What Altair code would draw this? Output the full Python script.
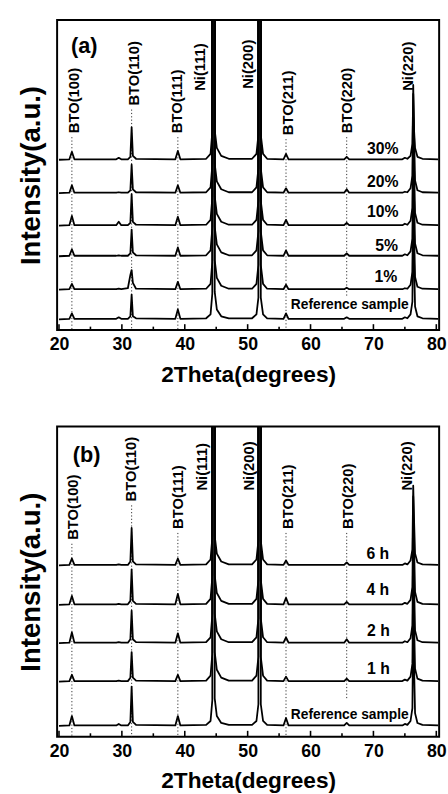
import altair as alt
import pandas as pd

FONT = "Liberation Sans"

# shared 2-theta sampling grid (degrees)
two_theta = [20.0, 21.65, 22.05, 22.45,
             29.1, 29.5, 29.9,
             30.95, 31.35, 31.55, 31.75, 32.25,
             38.5, 38.9, 39.3,
             43.4, 44.1, 44.38, 44.42, 44.72, 44.76, 45.1, 45.8, 47.0,
             50.7, 51.4, 51.71, 51.75, 52.05, 52.09, 52.45, 53.1,
             55.7, 56.1, 56.5,
             65.35, 65.75, 66.15,
             74.6, 75.0, 75.4,
             75.9, 76.2, 76.33, 76.48, 76.62, 77.0, 77.8,
             80.3]

# ---------- panel (a) ----------
a_names = ["30%", "20%", "10%", "5%", "1%", "Reference sample"]
a_offsets = [173, 139, 106, 75, 41, 11]
a_30 = [0, 0.5, 8, 0.5, 0.5, 2, 0.5, 0.5, 3, 33, 4, 1, 0.5, 9, 0.5,
        1, 6, 28, 1600, 1600, 30, 12, 4, 1, 1, 6, 25, 1600, 1600, 25, 6, 1,
        0.5, 6, 0.5, 0.5, 3, 0.5, 0.5, 2, 1, 4, 16, 67, 28, 12, 3, 1, 0.5]
a_20 = [0, 0.5, 8, 0.5, 0.5, 1, 0.5, 0.5, 3, 29, 4, 1, 0.5, 8, 0.5,
        1, 6, 28, 1600, 1600, 30, 12, 4, 1, 1, 6, 25, 1600, 1600, 25, 6, 1,
        0.5, 5, 0.5, 0.5, 4, 0.5, 0.5, 1.5, 1, 5, 18, 110, 55, 13, 3, 1, 0.5]
a_10 = [0, 0.5, 10, 0.5, 0.5, 4, 0.5, 0.5, 3, 32, 4, 1, 0.5, 9, 0.5,
        1, 6, 28, 1600, 1600, 30, 12, 4, 1, 1, 6, 25, 1600, 1600, 25, 6, 1,
        0.5, 6, 0.5, 0.5, 3, 0.5, 0.5, 2, 1, 5, 18, 110, 55, 13, 3, 1, 0.5]
a_5 = [0, 0.5, 7, 0.5, 0.5, 1, 0.5, 0.5, 3, 27, 4, 1, 0.5, 9, 0.5,
       1, 6, 28, 1600, 1600, 30, 12, 4, 1, 1, 6, 25, 1600, 1600, 25, 6, 1,
       0.5, 6, 0.5, 0.5, 3, 0.5, 0.5, 2, 1, 5, 18, 110, 55, 13, 3, 1, 0.5]
a_1 = [0, 0.5, 6, 0.5, 0.5, 1, 0.5, 1.5, 15, 20, 7, 1, 0.5, 8, 0.5,
       1, 6, 28, 1600, 1600, 30, 12, 4, 1, 1, 6, 25, 1600, 1600, 25, 6, 1,
       0.5, 5, 0.5, 0.5, 2, 0.5, 0.5, 1.5, 1, 5, 18, 110, 55, 13, 3, 1, 0.5]
a_ref = [0, 0.5, 6, 0.5, 0.5, 2, 0.5, 0.5, 3, 25, 3, 1, 0.5, 10, 0.5,
         1, 5, 26, 1600, 1600, 28, 10, 3, 1, 1, 5, 22, 1600, 1600, 22, 5, 1,
         0.5, 6, 0.5, 0.5, 2, 0.5, 0.5, 2, 1, 5, 18, 110, 55, 13, 3, 1, 0.5]

# ---------- panel (b) ----------
b_names = ["6 h", "4 h", "2 h", "1 h", "Reference sample"]
b_offsets = [174, 134, 95, 56, 11]
b_6 = [0, 0.5, 7, 0.5, 0.5, 1, 0.5, 0.5, 4, 38, 4, 1, 0.5, 7, 0.5,
       1, 6, 28, 1600, 1600, 30, 12, 4, 1, 1, 6, 25, 1600, 1600, 25, 6, 1,
       0.5, 5, 0.5, 0.5, 3, 0.5, 0.5, 2, 1, 5, 16, 81, 42, 12, 3, 1, 0.5]
b_4 = [0, 0.5, 9, 0.5, 0.5, 1, 0.5, 0.5, 4, 36, 4, 1, 0.5, 11, 0.5,
       1, 6, 28, 1600, 1600, 30, 12, 4, 1, 1, 6, 25, 1600, 1600, 25, 6, 1,
       0.5, 7, 0.5, 0.5, 3, 0.5, 0.5, 2, 1, 5, 18, 110, 55, 13, 3, 1, 0.5]
b_2 = [0, 0.5, 11, 0.5, 0.5, 1, 0.5, 0.5, 4, 33, 4, 1, 0.5, 10, 0.5,
       1, 6, 28, 1600, 1600, 30, 12, 4, 1, 1, 6, 25, 1600, 1600, 25, 6, 1,
       0.5, 6, 0.5, 0.5, 4, 0.5, 0.5, 2, 1, 5, 18, 110, 55, 13, 3, 1, 0.5]
b_1 = [0, 0.5, 7, 0.5, 0.5, 1, 0.5, 0.5, 4, 30, 4, 1, 0.5, 7, 0.5,
       1, 6, 28, 1600, 1600, 30, 12, 4, 1, 1, 6, 25, 1600, 1600, 25, 6, 1,
       0.5, 5, 0.5, 0.5, 3, 0.5, 0.5, 2, 1, 5, 18, 110, 55, 13, 3, 1, 0.5]
b_ref = [0, 0.5, 10, 0.5, 0.5, 2, 0.5, 0.5, 4, 40, 4, 1, 0.5, 10, 0.5,
         1, 5, 26, 1600, 1600, 28, 10, 3, 1, 1, 5, 22, 1600, 1600, 22, 5, 1,
         0.5, 8, 0.5, 0.5, 3, 0.5, 0.5, 2, 1, 5, 18, 110, 55, 13, 3, 1, 0.5]

# peak labels
peak_names = ["BTO(100)", "BTO(110)", "BTO(111)", "Ni(111)", "Ni(200)",
              "BTO(211)", "BTO(220)", "Ni(220)"]
a_label_x = [22.4, 31.9, 38.76, 42.4, 50.1, 56.4, 65.8, 75.5]
a_label_y = [200, 228, 200, 243, 245, 198, 200, 243]
b_label_x = [22.3, 31.45, 38.9, 42.7, 50.25, 56.5, 65.9, 75.3]
b_label_y = [200, 239, 211, 250, 250, 211, 211, 250]

# dotted guide lines at BTO reflections
bto_x = [22.05, 31.55, 38.9, 56.1, 65.75]
a_dot_top = [196, 224, 196, 194, 196]
a_dot_bottom = [0, 0, 0, 0, 34]
b_dot_top = [196, 235, 207, 207, 207]
b_dot_bottom = [0, 0, 0, 0, 38]

# sample labels
a_samp_x = [74.0, 74.0, 74.0, 73.9, 73.8, 75.6]
a_samp_y = [184, 150, 120, 85, 54, 25]
b_samp_x = [72.5, 72.5, 72.6, 72.6, 75.6]
b_samp_y = [186, 149, 107, 69, 22]

tick_major = [20, 30, 40, 50, 60, 70, 80]
tick_minor = [25, 35, 45, 55, 65, 75]

W, H = 388, 315


def panel(names, offsets, series, lab_x, lab_y, dtop, dbot, sx, sy, tag, tag_x, tag_y):
    rows = []
    for name, off, vals in zip(names, offsets, series):
        for i, (t, v) in enumerate(zip(two_theta, vals)):
            rows.append({"trace": name, "i": i, "x": t, "y": off + v})
    df = pd.DataFrame(rows)

    xs = alt.Scale(domain=[19.7, 80.45], nice=False, zero=False)
    ys = alt.Scale(domain=[0, H], nice=False, zero=False)
    xa = alt.Axis(values=tick_major, format="d", ticks=False, domain=False, grid=False,
                  labelFont=FONT, labelFontSize=18, labelFontWeight="bold",
                  labelColor="black", labelPadding=6,
                  labelFlush=True, labelFlushOffset=8,
                  title="2Theta(degrees)", titleFont=FONT, titleFontSize=23,
                  titleFontWeight="bold", titleColor="black", titlePadding=10)
    ya = alt.Axis(labels=False, ticks=False, domain=False, grid=False,
                  title="Intensity(a.u.)", titleFont=FONT, titleFontSize=28,
                  titleFontWeight="bold", titleColor="black", titlePadding=12)

    X = lambda f: alt.X(f, type="quantitative", scale=xs, axis=xa)
    Y = lambda f: alt.Y(f, type="quantitative", scale=ys, axis=ya)

    dots_df = pd.DataFrame({"x": bto_x, "top": dtop, "bot": dbot})
    dots = alt.Chart(dots_df).mark_rule(strokeDash=[1.2, 2.2], strokeWidth=1, color="#333").encode(
        x=X("x"), y=Y("top"), y2="bot")

    lines = alt.Chart(df).mark_line(color="black", strokeWidth=1.8, clip=True,
                                    strokeJoin="round").encode(
        x=X("x"), y=Y("y"), detail="trace:N", order="i:Q")

    maj = alt.Chart(pd.DataFrame({"x": tick_major})).mark_rule(color="black", strokeWidth=1.6).encode(
        x=X("x"), y=alt.value(H), y2=alt.value(H - 6))
    mnr = alt.Chart(pd.DataFrame({"x": tick_minor})).mark_rule(color="black", strokeWidth=1.6).encode(
        x=X("x"), y=alt.value(H), y2=alt.value(H - 3.5))

    lab_df = pd.DataFrame({"t": peak_names, "x": lab_x, "y": lab_y})
    labs = alt.Chart(lab_df).mark_text(angle=270, align="left", baseline="middle",
                                       font=FONT, fontSize=15, fontWeight="bold",
                                       color="black").encode(
        x=X("x"), y=Y("y"), text="t:N")

    s_df = pd.DataFrame({"t": names, "x": sx, "y": sy})
    short = s_df[s_df["t"] != "Reference sample"]
    refr = s_df[s_df["t"] == "Reference sample"]
    samp = alt.Chart(short).mark_text(align="right", baseline="middle", font=FONT,
                                      fontSize=16, fontWeight="bold", color="black").encode(
        x=X("x"), y=Y("y"), text="t:N")
    samp_ref = alt.Chart(refr).mark_text(align="right", baseline="middle", font=FONT,
                                         fontSize=14, fontWeight="bold", color="black").encode(
        x=X("x"), y=Y("y"), text="t:N")

    tag_df = pd.DataFrame({"t": [tag], "x": [tag_x], "y": [tag_y]})
    tagm = alt.Chart(tag_df).mark_text(align="center", baseline="middle", font=FONT,
                                       fontSize=22, fontWeight="bold", color="black").encode(
        x=X("x"), y=Y("y"), text="t:N")

    return alt.layer(dots, lines, maj, mnr, labs, samp, samp_ref, tagm).properties(width=W, height=H)


pa = panel(a_names, a_offsets, [a_30, a_20, a_10, a_5, a_1, a_ref],
           a_label_x, a_label_y, a_dot_top, a_dot_bottom, a_samp_x, a_samp_y,
           "(a)", 24.0, 288)
pb = panel(b_names, b_offsets, [b_6, b_4, b_2, b_1, b_ref],
           b_label_x, b_label_y, b_dot_top, b_dot_bottom, b_samp_x, b_samp_y,
           "(b)", 24.4, 286)

chart = alt.vconcat(pa, pb, spacing=39).properties(
    padding={"left": 17, "top": 13, "right": 0, "bottom": 0},
    background="white",
).configure_view(stroke="black", strokeWidth=2)

chart.save("out.html", embed_options={"renderer": "svg", "actions": False})
